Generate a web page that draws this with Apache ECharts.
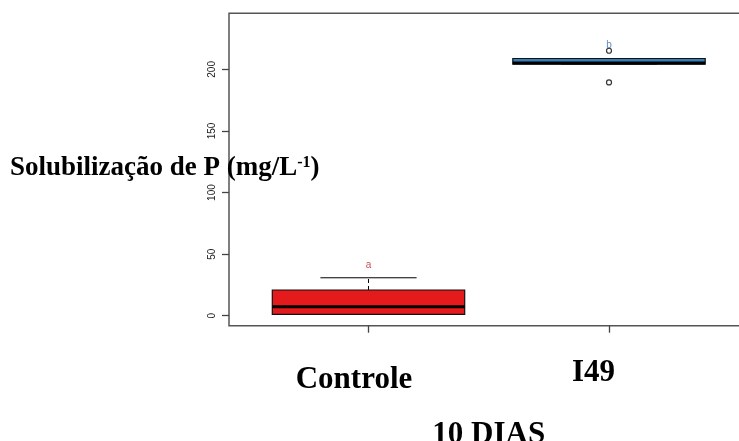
<!DOCTYPE html>
<html>
<head>
<meta charset="utf-8">
<script src="https://cdn.jsdelivr.net/npm/echarts@6/dist/echarts.min.js"></script>
<style>
  html, body { margin: 0; padding: 0; background: #fff; }
  #chart { width: 739px; height: 441px; }
</style>
</head>
<body>
<div id="chart"></div>
<script>
// Phosphate solubilization after 10 days, two treatments
const groups = ['Controle', 'I49'];
const groupPos = [1, 2];
const whiskerLow = [1.1, 204.3];
const q1 = [1.1, 204.3];
const medians = [7.3, 205.1];
const q3 = [20.9, 208.8];
const whiskerHigh = [30.8, 208.8];
const outliers = [[], [189.4, 215.1]];
const letters = ['a', 'b'];
const letterY = [40.6, 219.7];
const yTicks = [0, 50, 100, 150, 200];

const fills = ['#E41A1C', '#377EB8'];
const letterColors = ['#B3202A', '#3470B0'];
const serif = '"Liberation Serif", "Times New Roman", serif';
const sans = '"Liberation Sans", Arial, sans-serif';

const boxData = groups.map((g, i) => [groupPos[i], whiskerLow[i], q1[i], medians[i], q3[i], whiskerHigh[i]]);
const outlierData = [];
outliers.forEach((list, i) => list.forEach(v => outlierData.push([groupPos[i], v])));
const letterData = letters.map((t, i) => ({ value: [groupPos[i], letterY[i]], name: t,
  label: { color: letterColors[i] } }));

function renderBox(params, api) {
  const x = api.value(0);
  const lo = api.value(1), b1 = api.value(2), md = api.value(3), b3 = api.value(4), hi = api.value(5);
  const half = api.size([0.4, 0])[0];
  const staple = api.size([0.2, 0])[0];
  const pLo = api.coord([x, lo]), pQ1 = api.coord([x, b1]), pMd = api.coord([x, md]);
  const pQ3 = api.coord([x, b3]), pHi = api.coord([x, hi]);
  const cx = pMd[0];
  const fill = fills[params.dataIndex];
  const dash = { stroke: '#000', lineWidth: 1, lineDash: [4, 3] };
  const solid = { stroke: '#000', lineWidth: 1 };
  return {
    type: 'group',
    children: [
      { type: 'line', shape: { x1: cx, y1: pQ3[1], x2: cx, y2: pHi[1] }, style: dash },
      { type: 'line', shape: { x1: cx, y1: pQ1[1], x2: cx, y2: pLo[1] }, style: dash },
      { type: 'line', shape: { x1: cx - staple, y1: pHi[1], x2: cx + staple, y2: pHi[1] }, style: solid },
      { type: 'line', shape: { x1: cx - staple, y1: pLo[1], x2: cx + staple, y2: pLo[1] }, style: solid },
      { type: 'rect', shape: { x: cx - half, y: pQ3[1], width: 2 * half, height: pQ1[1] - pQ3[1] },
        style: { fill: fill, stroke: '#111', lineWidth: 1.2 } },
      { type: 'line', shape: { x1: cx - half, y1: pMd[1], x2: cx + half, y2: pMd[1] },
        style: { stroke: '#000', lineWidth: 3 } }
    ]
  };
}

const chart = echarts.init(document.getElementById('chart'), null, { renderer: 'canvas' });
chart.setOption({
  backgroundColor: '#fff',
  animation: false,
  grid: {
    left: 229, top: 13.3, right: -9.5, bottom: 115.3,
    outerBoundsMode: 'none', containLabel: false,
    show: true, borderColor: '#555', borderWidth: 1.5, backgroundColor: 'transparent'
  },
  xAxis: {
    type: 'value', min: 0.42, max: 2.58,
    splitLine: { show: false },
    axisLine: { show: false, onZero: false },
    axisTick: { show: true, length: 7, customValues: groupPos, lineStyle: { color: '#444', width: 1.3 } },
    axisLabel: {
      show: true, customValues: groupPos, margin: 32,
      formatter: v => (v === 1 ? '{c|Controle}' : '{i|I49}'),
      rich: {
        c: { fontFamily: serif, fontWeight: 'bold', fontSize: 31, color: '#000', padding: [7, 29, 0, 0] },
        i: { fontFamily: serif, fontWeight: 'bold', fontSize: 31, color: '#000', padding: [0, 31, 6, 0] }
      }
    },
    name: '10 DIAS', nameLocation: 'middle', nameGap: 94,
    nameTextStyle: { fontFamily: serif, fontWeight: 'bold', fontSize: 31, color: '#000' }
  },
  yAxis: {
    type: 'value', min: -8.1, max: 245.5,
    splitLine: { show: false },
    axisLine: { show: false, onZero: false },
    axisTick: { show: true, length: 7, customValues: yTicks, lineStyle: { color: '#444', width: 1.3 } },
    axisLabel: {
      customValues: yTicks, rotate: 90, margin: 12,
      fontFamily: sans, fontSize: 10, color: '#222'
    }
  },
  graphic: [{
    type: 'text', left: 10, top: 155,
    style: {
      text: '{t|Solubilização de P (mg/L}{s|-1}{t|)}',
      rich: {
        t: { fontFamily: serif, fontWeight: 'bold', fontSize: 27, color: '#000', verticalAlign: 'bottom' },
        s: { fontFamily: serif, fontWeight: 'bold', fontSize: 16, color: '#000', verticalAlign: 'top', padding: [0, 0, 10, 0] }
      }
    }
  }],
  series: [
    { type: 'custom', renderItem: renderBox, data: boxData, encode: { x: 0, y: [1, 2, 3, 4, 5] }, z: 2 },
    {
      type: 'scatter', data: letterData, symbolSize: 0, z: 3,
      label: { show: true, position: 'inside', formatter: p => p.name, fontFamily: sans, fontSize: 10 }
    },
    {
      type: 'scatter', data: outlierData, symbol: 'circle', symbolSize: 5, z: 4,
      itemStyle: { color: 'rgba(0,0,0,0)', borderColor: '#000', borderWidth: 1.2 }
    }
  ]
});
</script>
</body>
</html>
